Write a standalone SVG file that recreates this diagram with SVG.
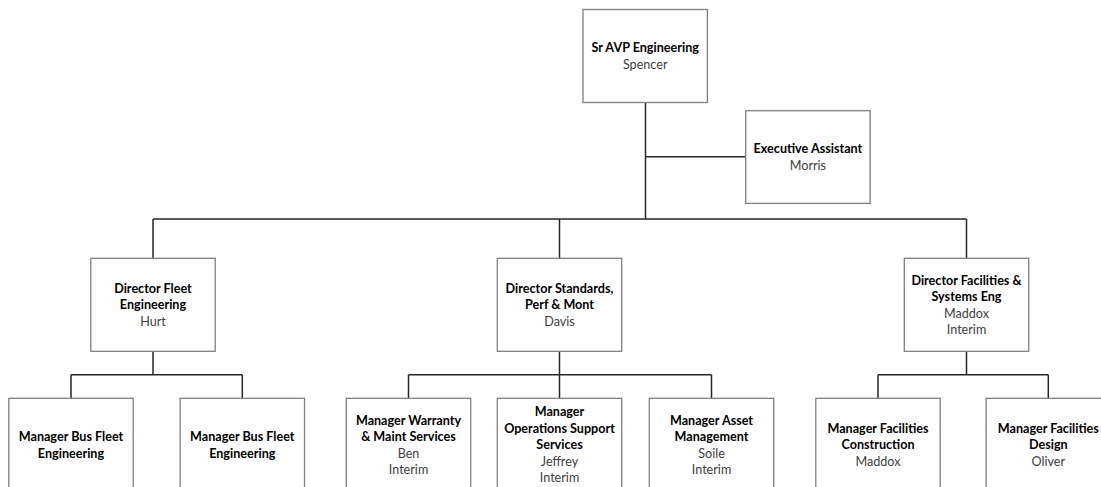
<svg xmlns="http://www.w3.org/2000/svg" width="1101" height="487" viewBox="0 0 1101 487">
  <style>
    .box { fill: #ffffff; stroke: #7f7f7f; stroke-width: 1.3; }
    .wire { fill: none; stroke: #262626; stroke-width: 1.5; }
    text { font-family: Lato, "Liberation Sans", sans-serif; font-size: 12.6px; text-anchor: middle; }
    .t { font-weight: bold; fill: #000000; }
    .n { fill: #404040; }
  </style>
  <rect width="1101" height="487" fill="#ffffff"/>

  <!-- reporting lines -->
  <g id="connectors">
    <path class="wire" d="M645.5,102.3 V219 M645.5,156.7 H745.7"/>
    <path class="wire" d="M153,219 H966.5 M153,219 V258.3 M559.5,219 V258.3 M966.5,219 V258.3"/>
    <path class="wire" d="M153,351.3 V374.7 M71,374.7 H242.3 M71,374.7 V398.3 M242.3,374.7 V398.3"/>
    <path class="wire" d="M559.5,351.3 V374.7 M408.5,374.7 H711.5 M408.5,374.7 V398.3 M559.5,374.7 V398.3 M711.5,374.7 V398.3"/>
    <path class="wire" d="M966.5,351.3 V374.7 M878,374.7 H1048.3 M878,374.7 V398.3 M1048.3,374.7 V398.3"/>
  </g>

  <g id="sr-avp">
    <rect class="box" x="583" y="9.5" width="124.4" height="93"/>
    <text><tspan class="t" x="645.2" y="52">Sr AVP Engineering</tspan><tspan class="n" x="645.2" y="68.5">Spencer</tspan></text>
  </g>

  <g id="exec-assistant">
    <rect class="box" x="745.7" y="110.7" width="124.4" height="92.7"/>
    <text><tspan class="t" x="807.9" y="153.2">Executive Assistant</tspan><tspan class="n" x="807.9" y="169.7">Morris</tspan></text>
  </g>

  <g id="dir-fleet">
    <rect class="box" x="90.8" y="258.3" width="124.4" height="93"/>
    <text><tspan class="t" x="153" y="292.7">Director Fleet</tspan><tspan class="t" x="153" y="309.2">Engineering</tspan><tspan class="n" x="153" y="325.7">Hurt</tspan></text>
  </g>

  <g id="dir-standards">
    <rect class="box" x="497.3" y="258.3" width="124.4" height="93"/>
    <text><tspan class="t" x="559.5" y="292.7">Director Standards,</tspan><tspan class="t" x="559.5" y="309.2">Perf &amp; Mont</tspan><tspan class="n" x="559.5" y="325.7">Davis</tspan></text>
  </g>

  <g id="dir-facilities">
    <rect class="box" x="904.3" y="258.3" width="124.4" height="93"/>
    <text><tspan class="t" x="966.5" y="284.5">Director Facilities &amp;</tspan><tspan class="t" x="966.5" y="301">Systems Eng</tspan><tspan class="n" x="966.5" y="317.5">Maddox</tspan><tspan class="n" x="966.5" y="334">Interim</tspan></text>
  </g>

  <g id="mgr-bus-fleet-1">
    <rect class="box" x="8.8" y="398.3" width="124.4" height="93"/>
    <text><tspan class="t" x="71" y="441">Manager Bus Fleet</tspan><tspan class="t" x="71" y="457.5">Engineering</tspan></text>
  </g>

  <g id="mgr-bus-fleet-2">
    <rect class="box" x="180.1" y="398.3" width="124.4" height="93"/>
    <text><tspan class="t" x="242.3" y="441">Manager Bus Fleet</tspan><tspan class="t" x="242.3" y="457.5">Engineering</tspan></text>
  </g>

  <g id="mgr-warranty">
    <rect class="box" x="346.3" y="398.3" width="124.4" height="93"/>
    <text><tspan class="t" x="408.5" y="424.5">Manager Warranty</tspan><tspan class="t" x="408.5" y="441">&amp; Maint Services</tspan><tspan class="n" x="408.5" y="457.5">Ben</tspan><tspan class="n" x="408.5" y="474">Interim</tspan></text>
  </g>

  <g id="mgr-ops-support">
    <rect class="box" x="497.3" y="398.3" width="124.4" height="93"/>
    <text><tspan class="t" x="559.5" y="416.3">Manager</tspan><tspan class="t" x="559.5" y="432.8">Operations Support</tspan><tspan class="t" x="559.5" y="449.3">Services</tspan><tspan class="n" x="559.5" y="465.8">Jeffrey</tspan><tspan class="n" x="559.5" y="482.3">Interim</tspan></text>
  </g>

  <g id="mgr-asset">
    <rect class="box" x="649.3" y="398.3" width="124.4" height="93"/>
    <text><tspan class="t" x="711.5" y="424.5">Manager Asset</tspan><tspan class="t" x="711.5" y="441">Management</tspan><tspan class="n" x="711.5" y="457.5">Soile</tspan><tspan class="n" x="711.5" y="474">Interim</tspan></text>
  </g>

  <g id="mgr-fac-construction">
    <rect class="box" x="815.8" y="398.3" width="124.4" height="93"/>
    <text><tspan class="t" x="878" y="432.8">Manager Facilities</tspan><tspan class="t" x="878" y="449.3">Construction</tspan><tspan class="n" x="878" y="465.8">Maddox</tspan></text>
  </g>

  <g id="mgr-fac-design">
    <rect class="box" x="986.1" y="398.3" width="124.4" height="93"/>
    <text><tspan class="t" x="1048.3" y="432.8">Manager Facilities</tspan><tspan class="t" x="1048.3" y="449.3">Design</tspan><tspan class="n" x="1048.3" y="465.8">Oliver</tspan></text>
  </g>
</svg>
